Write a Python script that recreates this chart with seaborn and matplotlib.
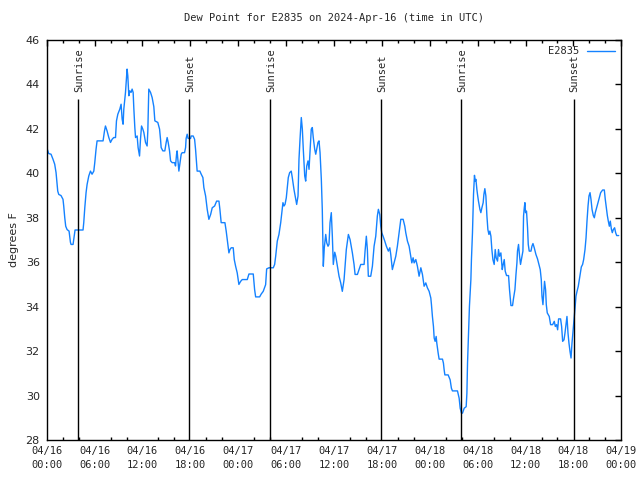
import matplotlib
matplotlib.use('Agg')
import matplotlib.pyplot as plt
import pandas as pd
import seaborn as sns

# Time in hours since 2024-04-16 00:00 UTC, dew point in degrees F
hours = [0.00, 0.25, 0.54, 0.79, 1.00, 1.17, 1.29, 1.38, 1.51, 1.79, 2.04, 2.13, 2.26, 2.38, 2.55, 2.80,
         2.97, 3.05, 3.30, 3.47, 3.55, 4.55, 4.64, 4.77, 4.93, 5.06, 5.27, 5.48, 5.68, 5.90, 6.02, 6.18,
         6.31, 7.06, 7.24, 7.36, 7.56, 7.78, 7.99, 8.19, 8.40, 8.62, 8.74, 8.91, 9.16, 9.32, 9.45, 9.57,
         9.66, 9.87, 10.00, 10.07, 10.16, 10.29, 10.41, 10.57, 10.70, 10.83, 10.91, 11.04, 11.13, 11.33,
         11.45, 11.63, 11.75, 11.88, 12.04, 12.17, 12.38, 12.58, 12.67, 12.76, 12.79, 13.01, 13.21, 13.42,
         13.55, 13.92, 14.14, 14.26, 14.34, 14.55, 14.80, 14.97, 15.09, 15.22, 15.39, 15.52, 15.72, 16.02,
         16.14, 16.27, 16.34, 16.47, 16.56, 16.68, 16.85, 16.97, 17.27, 17.40, 17.47, 17.60, 17.72, 18.03,
         18.10, 18.35, 18.53, 18.65, 18.78, 18.85, 19.19, 19.36, 19.57, 19.69, 19.91, 20.11, 20.32, 20.54,
         20.74, 21.04, 21.29, 21.58, 21.70, 21.86, 22.33, 22.49, 22.62, 22.83, 22.96, 23.12, 23.37, 23.50,
         23.67, 23.87, 24.08, 24.30, 24.50, 25.13, 25.34, 25.88, 26.05, 26.18, 26.68, 26.88, 27.13, 27.43,
         27.56, 27.85, 28.39, 28.56, 28.69, 28.89, 29.10, 29.32, 29.44, 29.60, 29.73, 29.86, 30.02, 30.14,
         30.27, 30.44, 30.64, 30.77, 30.98, 31.20, 31.32, 31.49, 31.61, 31.74, 31.90, 32.03, 32.15, 32.33,
         32.45, 32.58, 32.74, 32.87, 32.99, 33.15, 33.28, 33.40, 33.58, 33.71, 33.83, 33.99, 34.12, 34.25,
         34.41, 34.53, 34.62, 34.66, 34.78, 34.96, 35.09, 35.25, 35.37, 35.50, 35.66, 35.79, 35.91, 36.09,
         36.22, 36.42, 36.63, 36.84, 37.04, 37.26, 37.54, 37.80, 38.01, 38.30, 38.51, 38.64, 38.93, 39.14,
         39.35, 39.77, 39.89, 40.05, 40.18, 40.30, 40.60, 40.81, 41.02, 41.23, 41.43, 41.56, 41.73, 41.86,
         41.98, 42.15, 42.36, 42.56, 42.81, 42.99, 43.11, 43.31, 43.53, 43.74, 43.94, 44.15, 44.37, 44.66,
         44.87, 44.99, 45.20, 45.41, 45.62, 45.75, 45.91, 46.04, 46.25, 46.45, 46.66, 46.88, 47.08, 47.29,
         47.50, 47.70, 47.92, 48.13, 48.21, 48.33, 48.46, 48.55, 48.67, 48.80, 48.88, 49.05, 49.17, 49.59,
         49.71, 49.80, 49.89, 50.30, 50.55, 50.71, 50.84, 51.47, 51.68, 51.81, 51.97, 52.10, 52.31, 52.56,
         52.65, 52.73, 52.85, 52.97, 53.15, 53.22, 53.35, 53.48, 53.60, 53.69, 53.78, 53.90, 53.98, 54.10,
         54.28, 54.40, 54.53, 54.69, 54.78, 54.90, 55.03, 55.16, 55.28, 55.41, 55.53, 55.66, 55.78, 55.91,
         56.07, 56.20, 56.32, 56.49, 56.61, 56.74, 56.91, 57.08, 57.20, 57.33, 57.45, 57.62, 57.87, 57.99,
         58.17, 58.37, 58.50, 58.67, 58.80, 58.92, 58.99, 59.12, 59.25, 59.37, 59.50, 59.67, 59.75, 59.84,
         59.92, 60.00, 60.12, 60.25, 60.34, 60.46, 60.68, 60.80, 60.93, 61.09, 61.30, 61.50, 61.68, 61.84,
         61.97, 62.06, 62.18, 62.31, 62.38, 62.51, 62.60, 62.72, 62.97, 63.14, 63.39, 63.60, 63.73, 63.89,
         64.02, 64.14, 64.39, 64.52, 64.65, 64.82, 64.94, 65.07, 65.19, 65.32, 65.44, 65.57, 65.70, 65.82,
         65.95, 66.07, 66.20, 66.32, 66.45, 66.61, 66.74, 66.86, 66.99, 67.15, 67.28, 67.45, 67.58, 67.70,
         67.83, 67.95, 68.08, 68.20, 68.33, 68.49, 68.62, 68.74, 68.91, 69.08, 69.24, 69.41, 69.66, 69.87,
         69.99, 70.12, 70.25, 70.37, 70.50, 70.62, 70.75, 70.87, 71.00, 71.16, 71.29, 71.42, 71.67]

dewpoint = [41.16, 40.89, 40.86, 40.63, 40.41, 40.03, 39.58, 39.20, 39.05, 39.00, 38.83, 38.53, 38.00, 37.62, 37.47, 37.40,
            36.90, 36.80, 36.80, 37.25, 37.45, 37.45, 37.78, 38.45, 39.13, 39.50, 39.88, 40.10, 39.96, 40.10, 40.48, 41.08,
            41.46, 41.46, 41.91, 42.13, 41.91, 41.61, 41.39, 41.53, 41.61, 41.61, 42.36, 42.66, 42.89, 43.11, 42.44, 42.21,
            42.89, 43.64, 44.32, 44.69, 44.39, 43.49, 43.71, 43.64, 43.79, 43.64, 42.96, 42.06, 41.61, 41.68,
            41.16, 40.78, 41.53, 42.13, 41.99, 41.84, 41.39, 41.23, 41.91, 43.19, 43.79, 43.64, 43.41, 43.00,
            42.36, 42.29, 41.99, 41.53, 41.16, 41.01, 41.01, 41.39, 41.61, 41.39, 41.01, 40.56, 40.48, 40.48,
            40.33, 40.86, 41.01, 40.48, 40.10, 40.41, 40.86, 40.93, 40.93, 41.16, 41.57, 41.76, 41.57, 41.57,
            41.68, 41.68, 41.53, 41.08, 40.48, 40.10, 40.10, 39.96, 39.81, 39.36, 38.98, 38.38, 37.93, 38.15,
            38.45, 38.53, 38.75, 38.75, 38.38, 37.78, 37.78, 37.40, 37.02, 36.42, 36.57, 36.65, 36.65, 36.12,
            35.82, 35.52, 35.00, 35.14, 35.22, 35.22, 35.47, 35.47, 34.77, 34.44, 34.44, 34.57, 34.69, 34.99,
            35.70, 35.75, 35.75, 35.90, 36.27, 36.95, 37.25, 37.78, 38.15, 38.68, 38.53, 38.60, 38.90, 39.36,
            39.81, 40.03, 40.10, 39.81, 39.28, 38.83, 38.60, 38.98, 40.63, 41.53, 42.51, 41.99, 41.08, 39.88,
            39.65, 40.33, 40.56, 40.18, 40.93, 41.99, 42.06, 41.61, 41.08, 40.86, 41.08, 41.39, 41.46, 40.93,
            39.73, 38.38, 36.57, 35.82, 36.65, 37.25, 36.87, 36.72, 36.80, 37.78, 38.23, 37.17, 35.90, 36.45,
            36.27, 35.82, 35.37, 35.07, 34.69, 35.22, 36.57, 37.25, 37.02, 36.42, 35.90, 35.45, 35.45, 35.67,
            35.90, 35.90, 36.50, 37.17, 36.57, 35.37, 35.37, 35.82, 36.72, 37.17, 38.08, 38.38, 38.15, 37.62,
            37.33, 37.17, 36.95, 36.72, 36.50, 36.65, 36.35, 35.67, 35.97, 36.27, 36.72, 37.33, 37.93, 37.93,
            37.62, 37.33, 36.95, 36.72, 36.27, 35.97, 36.20, 35.97, 36.12, 35.82, 35.37, 35.75, 35.45, 34.92,
            35.07, 34.85, 34.69, 34.39, 34.09, 33.56, 33.11, 32.59, 32.44, 32.66, 32.36, 31.91, 31.64, 31.64,
            31.46, 31.16, 30.93, 30.93, 30.71, 30.33, 30.21, 30.21, 29.88, 29.43, 29.21, 29.21, 29.43, 29.50,
            30.10, 31.46, 32.74, 34.02, 35.22, 36.12, 37.33, 39.05, 39.91, 39.65, 39.73, 39.28, 39.05, 38.75,
            38.38, 38.23, 38.45, 38.68, 39.05, 39.31, 38.98, 38.08, 37.47, 37.25, 37.40, 37.17, 36.57, 36.12,
            35.90, 36.57, 36.20, 36.05, 36.57, 36.27, 36.42, 35.67, 35.90, 36.12, 35.60, 35.40, 35.40, 34.77,
            34.05, 34.05, 34.39, 34.77, 35.45, 35.97, 36.50, 36.80, 36.27, 35.90, 36.15, 36.50, 38.08, 38.45,
            38.68, 38.23, 38.30, 37.55, 36.80, 36.50, 36.50, 36.72, 36.84, 36.65, 36.35, 36.15, 35.90, 35.67,
            35.22, 34.47, 34.09, 34.77, 35.14, 34.77, 34.09, 33.72, 33.56, 33.19, 33.19, 33.34, 33.11, 33.19,
            32.96, 33.45, 33.45, 33.11, 32.44, 32.51, 32.81, 33.19, 33.56, 32.81, 32.36, 31.99, 31.69, 32.36,
            32.89, 33.41, 33.94, 34.47, 34.69, 34.92, 35.22, 35.52, 35.79, 35.90, 36.12, 36.57, 37.10, 37.85,
            38.53, 38.98, 39.13, 38.83, 38.38, 38.10, 38.00, 38.23, 38.45, 38.68, 38.90, 39.13, 39.25, 39.25,
            38.83, 38.45, 38.10, 37.85, 37.62, 37.85, 37.50, 37.33, 37.47, 37.55, 37.33, 37.20, 37.20]

sunrise_hours = [3.93, 28.01, 51.97]
sunset_hours = [17.85, 41.94, 66.02]

xtick_hours = [0, 6, 12, 18, 24, 30, 36, 42, 48, 54, 60, 66, 72]
xtick_labels = ["04/16\n00:00", "04/16\n06:00", "04/16\n12:00", "04/16\n18:00",
                "04/17\n00:00", "04/17\n06:00", "04/17\n12:00", "04/17\n18:00",
                "04/18\n00:00", "04/18\n06:00", "04/18\n12:00", "04/18\n18:00",
                "04/19\n00:00"]
yticks = [28, 30, 32, 34, 36, 38, 40, 42, 44, 46]

title = "Dew Point for E2835 on 2024-Apr-16 (time in UTC)"
series_name = "E2835"
line_color = "#1482ff"

sns.set_style("white")
plt.rcParams['font.family'] = ['DejaVu Sans']
plt.rcParams['xtick.direction'] = 'in'
plt.rcParams['ytick.direction'] = 'in'

MONO = 'DejaVu Sans Mono'

fig = plt.figure(figsize=(6.4, 4.8), dpi=100)
ax = fig.add_axes([0.073, 0.0833, 0.8978, 0.8334])

df = pd.DataFrame({"hours": hours, "dewpoint": dewpoint})
sns.lineplot(data=df, x="hours", y="dewpoint", ax=ax, color=line_color,
             linewidth=1.0, estimator=None, sort=False, label=series_name)

top_line = 43.35
for h in sunrise_hours:
    ax.vlines(h, 28, top_line, color='black', linewidth=1.0)
    ax.text(h + 0.1, 43.65, "Sunrise", rotation=90, ha='center', va='bottom',
            family=MONO, fontsize=7.5)
for h in sunset_hours:
    ax.vlines(h, 28, top_line, color='black', linewidth=1.0)
    ax.text(h + 0.1, 43.65, "Sunset", rotation=90, ha='center', va='bottom',
            family=MONO, fontsize=7.5)

ax.set_xlim(0, 72)
ax.set_ylim(28, 46)
ax.set_xticks(xtick_hours)
ax.set_xticklabels(xtick_labels, family=MONO, fontsize=7.5, linespacing=1.55)
ax.set_xticks(list(range(0, 73, 2)), minor=True)
ax.set_yticks(yticks)
ax.set_yticklabels([str(v) for v in yticks], fontsize=8)

ax.tick_params(axis='both', which='major', direction='in', length=4, width=1,
               top=True, right=True, color='black')
ax.tick_params(axis='x', which='minor', direction='in', length=2.2, width=1,
               top=True, bottom=True, color='black')
ax.tick_params(axis='x', which='major', pad=4)
ax.tick_params(axis='y', which='major', pad=5)

for sp in ax.spines.values():
    sp.set_color('black')
    sp.set_linewidth(1.0)
    sp.set_visible(True)

ax.set_xlabel("")
ax.set_ylabel("degrees F", fontsize=8, labelpad=5)
ax.set_title(title, family=MONO, fontsize=7.5, pad=14)

leg = ax.legend(loc='upper right', frameon=False, markerfirst=False,
                prop={'family': MONO, 'size': 7.5}, handlelength=2.7,
                handletextpad=0.7, borderaxespad=0.2)
for line in leg.get_lines():
    line.set_linewidth(1.0)

fig.savefig("out.png", dpi=100)
